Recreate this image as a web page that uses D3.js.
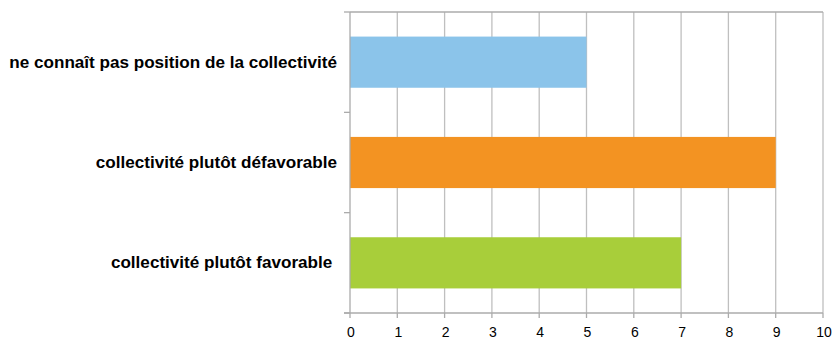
<!DOCTYPE html>
<html><head><meta charset="utf-8">
<script src="https://cdn.jsdelivr.net/npm/d3@7"></script>
<style>body{margin:0;background:#fff}svg{display:block}</style>
</head><body>
<script>
const categories = ["ne connaît pas position de la collectivité", "collectivité plutôt défavorable", "collectivité plutôt favorable "];
const values = [5, 9, 7];
const colors = ["#8BC4EA", "#F39322", "#A8CE3A"];
const xTicks = [0,1,2,3,4,5,6,7,8,9,10];

const W = 832, H = 339;
const m = {left: 350, right: 9, top: 12, bottom: 26};
const svg = d3.select("body").append("svg").attr("width", W).attr("height", H);
const x = d3.scaleLinear().domain([0, 10]).range([m.left, W - m.right]);
const y = d3.scaleBand().domain(categories).range([m.top, H - m.bottom]).paddingInner(0.49).paddingOuter(0.245);
const yb = d3.scaleBand().domain(categories).range([m.top, H - m.bottom]);

// gridlines
svg.append("g").selectAll("line").data(xTicks.slice(1)).join("line")
  .attr("x1", d => x(d)).attr("x2", d => x(d))
  .attr("y1", m.top).attr("y2", H - m.bottom)
  .attr("stroke", "#BFBFBF").attr("stroke-width", 1.3);
// top border
svg.append("line").attr("x1", m.left).attr("x2", x(10)).attr("y1", m.top).attr("y2", m.top)
  .attr("stroke", "#ABABAB").attr("stroke-width", 1.3);

// bars
svg.append("g").selectAll("rect").data(categories).join("rect")
  .attr("x", x(0)).attr("y", d => y(d))
  .attr("width", (d, i) => x(values[i]) - x(0))
  .attr("height", y.bandwidth())
  .attr("fill", (d, i) => colors[i]);

// y axis
const ya = svg.append("g");
ya.append("line").attr("x1", m.left).attr("x2", m.left).attr("y1", m.top).attr("y2", H - m.bottom)
  .attr("stroke", "#ABABAB").attr("stroke-width", 1.3);
const yTickPos = categories.map(c => yb(c)).concat([yb.range()[1]]);
ya.selectAll("line.t").data(yTickPos).join("line").attr("class", "t")
  .attr("x1", m.left - 6).attr("x2", m.left).attr("y1", d => d).attr("y2", d => d)
  .attr("stroke", "#ABABAB").attr("stroke-width", 1.3);
ya.selectAll("text").data(categories).join("text")
  .attr("x", m.left - 13).attr("y", d => yb(d) + yb.bandwidth() / 2 + 1)
  .attr("text-anchor", "end").attr("dominant-baseline", "middle")
  .attr("font-family", "Liberation Sans, Arial, sans-serif").attr("font-weight", "bold")
  .attr("font-size", 17.1).attr("fill", "#000")
  .style("white-space", "pre")
  .text(d => d);

// x axis
const xa = svg.append("g");
xa.append("line").attr("x1", m.left - 6).attr("x2", x(10)).attr("y1", H - m.bottom).attr("y2", H - m.bottom)
  .attr("stroke", "#ABABAB").attr("stroke-width", 1.3);
xa.selectAll("line.t").data(xTicks).join("line").attr("class", "t")
  .attr("x1", d => x(d)).attr("x2", d => x(d)).attr("y1", H - m.bottom).attr("y2", H - m.bottom + 5)
  .attr("stroke", "#ABABAB").attr("stroke-width", 1.3);
xa.selectAll("text").data(xTicks).join("text")
  .attr("x", d => x(d) + 1).attr("y", H - 2)
  .attr("text-anchor", "middle")
  .attr("font-family", "Liberation Sans, Arial, sans-serif")
  .attr("font-size", 14).attr("fill", "#000")
  .text(d => d);
</script>
</body></html>
